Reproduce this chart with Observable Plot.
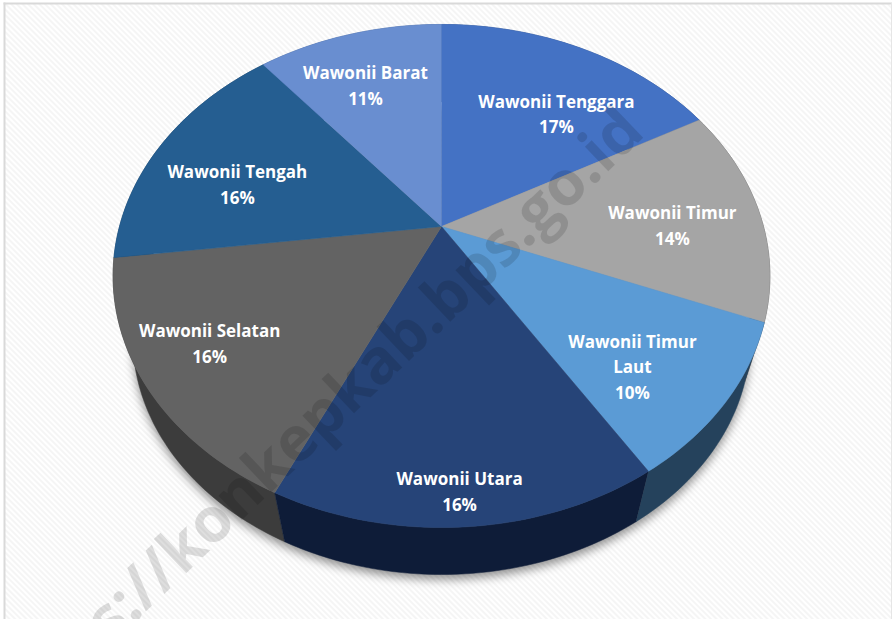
<!DOCTYPE html>
<html>
<head>
<meta charset="utf-8">
<script src="https://cdn.jsdelivr.net/npm/d3@7"></script>
<script src="https://cdn.jsdelivr.net/npm/@observablehq/plot@0.6"></script>
<style>html,body{margin:0;padding:0;background:#fff}svg{display:block}</style>
</head>
<body>
<div id="chart"></div>
<script>
// Data
const districts = ["Wawonii Tenggara","Wawonii Timur","Wawonii Timur\nLaut","Wawonii Utara","Wawonii Selatan","Wawonii Tengah","Wawonii Barat"];
const shares = [17,14,10,16,16,16,11];
const topColors = ["#4472c4","#a5a5a5","#5b9bd5","#264478","#636363","#255e91","#698ed0"];
const wallColors = ["#2a4a80","#555555","#25425c","#0e1c38","#3c3c3c","#173b5c","#3d5a90"];
const labelX = [0.357,0.717,0.593,0.056,-0.72,-0.634,-0.236];
const labelY = [-0.4715,-0.0103,0.5728,1.0897,0.4777,-0.1799,-0.5893];

// Tilted disc: the unit circle seen in perspective
const tilt = -0.1968, lowerScale = 0.94, lowerDrop = 0.269;
const project = (share) => {
  const a = share / 100 * 2 * Math.PI, u = Math.sin(a), v = -Math.cos(a), d = 1 + tilt * v;
  return [u / d, v / d];
};
const lower = ([x, y]) => [x * lowerScale, y * lowerScale + lowerDrop];

const arc = (from, to) => {
  const n = Math.ceil((to - from) * 3), pts = [];
  for (let i = 0; i <= n; ++i) pts.push(project(from + (to - from) * i / n));
  return pts;
};
const cumulative = d3.cumsum(shares);
const slices = districts.map((name, i) => ({name, i, from: cumulative[i] - shares[i], to: cumulative[i]}));

const faces = slices.flatMap(s => [[0, 0], ...arc(s.from, s.to)].map(([x, y]) => ({x, y, key: s.name})));
// walls: back ones first, near the viewer last
const wallOrder = d3.sort(slices, s => project((s.from + s.to) / 2)[1]);
const walls = wallOrder.flatMap(s => {
  const up = arc(s.from, s.to);
  return [...up, ...up.slice().reverse().map(lower)].map(([x, y]) => ({x, y, key: s.name + " wall"}));
});
const shadow = arc(0, 100).map(lower).map(([x, y]) => ({x, y}));
const labels = slices.map((s, i) => ({x: labelX[i], y: labelY[i], text: `${s.name}\n${shares[i]}%`}));

const defs = () => {
  const d = d3.create("svg:defs");
  const p = d.append("pattern").attr("id", "hatch").attr("patternUnits", "userSpaceOnUse")
    .attr("width", 4).attr("height", 4).attr("patternTransform", "rotate(-45)");
  p.append("rect").attr("width", 4).attr("height", 4).attr("fill", "#ffffff");
  p.append("rect").attr("width", 2).attr("height", 4).attr("fill", "#f5f5f5");
  return d.node();
};

const chart = Plot.plot({
  width: 892, height: 619,
  marginTop: 3, marginLeft: 4, marginRight: 1, marginBottom: 0,
  style: {background: "#fff", fontFamily: "'Open Sans',sans-serif"},
  x: {domain: [-1, 1], range: [119, 763], axis: null},
  y: {domain: [-1, 1], range: [-15.8, 467.8], axis: null},
  color: {
    type: "ordinal",
    domain: [...districts, ...districts.map(d => d + " wall")],
    range: [...topColors, ...wallColors]
  },
  marks: [
    defs,
    Plot.frame({fill: "url(#hatch)", stroke: "none"}),
    Plot.frame({anchor: "top", stroke: "#d9d9d9", strokeWidth: 2}),
    Plot.frame({anchor: "left", stroke: "#d9d9d9", strokeWidth: 2}),
    Plot.frame({anchor: "right", stroke: "#e6e6e6", strokeWidth: 1}),
    Plot.line(shadow, {x: "x", y: "y", fill: "#000", fillOpacity: 0.42, stroke: "none", dy: 5, imageFilter: "blur(5px)"}),
    Plot.line(walls, {x: "x", y: "y", z: "key", fill: "key", stroke: "key", strokeWidth: 0.5, curve: "linear"}),
    Plot.line(faces, {x: "x", y: "y", z: "key", fill: "key", stroke: "key", strokeWidth: 0.5, curve: "linear"}),
    Plot.text(labels, {x: "x", y: "y", text: "text", fill: "#fff", fontSize: 17, fontWeight: 700, lineHeight: 1.5, lineAnchor: "middle", textAnchor: "middle"}),
    Plot.text(["https://konkepkab.bps.go.id"], {
      x: [0.595], y: [-0.44], text: d => d, textAnchor: "end", rotate: -43.6,
      fontSize: 62, fontWeight: 700, fontFamily: "'Open Sans',sans-serif", fill: "#000", fillOpacity: 0.13
    })
  ]
});
document.getElementById("chart").append(chart);
</script>
</body>
</html>
